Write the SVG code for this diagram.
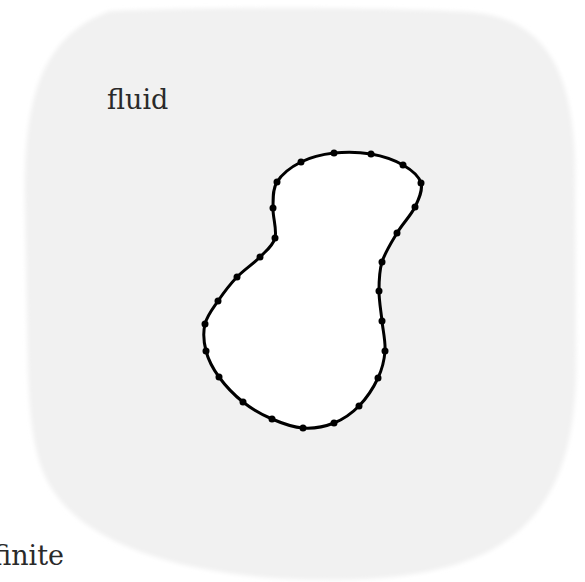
<svg xmlns="http://www.w3.org/2000/svg" width="585" height="582" viewBox="0 0 585 582">
<defs>
<style>
.lbl{font-family:"DejaVu Serif","Liberation Serif",serif;font-size:27px;fill:#2a2a2a}
.pt{fill:#000}
</style>
<filter id="soft" x="-5%" y="-5%" width="110%" height="110%"><feGaussianBlur stdDeviation="2"/></filter>
</defs>
<rect width="585" height="582" fill="#fff"/>
<g id="domain">
<path d="M 110,11 C 250,6 400,8 470,12 C 545,18 572,70 575,160 L 576,360 C 577,450 555,510 500,545 C 460,570 400,580 330,580 C 200,580 100,550 60,500 C 35,470 30,430 28,370 L 25,210 C 24,120 30,40 110,11 Z" fill="#f1f1f1" filter="url(#soft)"/>
<text class="lbl" x="107" y="109">fluid</text>
<text class="lbl" x="64" y="565" text-anchor="end">finite</text>
</g>
<g id="body">
<path d="M334,153 C345.7,151.7 359.5,152 371,154 C382.5,156 394.7,160.2 403,165 C411.3,169.8 419,176 421,183 C423,190 419,198.7 415,207 C411,215.3 402.5,223.8 397,233 C391.5,242.2 385,252.3 382,262 C379,271.7 379,281.2 379,291 C379,300.8 381,311 382,321 C383,331 385.7,341.5 385,351 C384.3,360.5 382.3,368.8 378,378 C373.7,387.2 366.3,398.5 359,406 C351.7,413.5 343.3,419.3 334,423 C324.7,426.7 313.3,428.7 303,428 C292.7,427.3 282,423.3 272,419 C262,414.7 251.8,409 243,402 C234.2,395 225.2,385.5 219,377 C212.8,368.5 208.3,359.8 206,351 C203.7,342.2 203,332.3 205,324 C207,315.7 212.7,308.8 218,301 C223.3,293.2 230,284.3 237,277 C244,269.7 253.7,263.5 260,257 C266.3,250.5 272.8,246.2 275,238 C277.2,229.8 272.7,217.3 273,208 C273.3,198.7 272.3,189.7 277,182 C281.7,174.3 291.5,166.8 301,162 C310.5,157.2 322.3,154.3 334,153 Z" fill="#fff" stroke="#000" stroke-width="3" stroke-linejoin="round"/>
<g class="pt">
<circle cx="334" cy="153" r="3.5"/><circle cx="371" cy="154" r="3.5"/><circle cx="403" cy="165" r="3.5"/><circle cx="421" cy="183" r="3.5"/><circle cx="415" cy="207" r="3.5"/><circle cx="397" cy="233" r="3.5"/><circle cx="382" cy="262" r="3.5"/><circle cx="379" cy="291" r="3.5"/><circle cx="382" cy="321" r="3.5"/><circle cx="385" cy="351" r="3.5"/><circle cx="378" cy="378" r="3.5"/><circle cx="359" cy="406" r="3.5"/><circle cx="334" cy="423" r="3.5"/><circle cx="303" cy="428" r="3.5"/><circle cx="272" cy="419" r="3.5"/><circle cx="243" cy="402" r="3.5"/><circle cx="219" cy="377" r="3.5"/><circle cx="206" cy="351" r="3.5"/><circle cx="205" cy="324" r="3.5"/><circle cx="218" cy="301" r="3.5"/><circle cx="237" cy="277" r="3.5"/><circle cx="260" cy="257" r="3.5"/><circle cx="275" cy="238" r="3.5"/><circle cx="273" cy="208" r="3.5"/><circle cx="277" cy="182" r="3.5"/><circle cx="301" cy="162" r="3.5"/>
</g>
</g>
</svg>
